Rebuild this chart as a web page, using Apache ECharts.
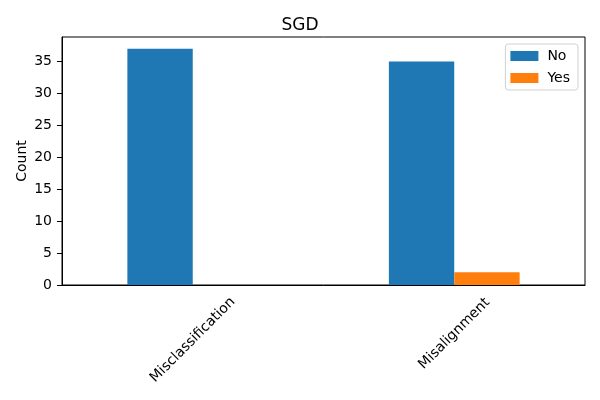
<!DOCTYPE html>
<html>
<head>
    <meta charset="utf-8"/>
    <title>SGD</title>
    <script src="https://cdn.jsdelivr.net/npm/echarts@6/dist/echarts.min.js"></script>
</head>
<body style="margin:0">
<div id="main" style="width: 600px;height:400px;"></div>
<script type="text/javascript">
    // data
    var categories = ['Misclassification', 'Misalignment'];
    var noValues = [37, 35];
    var yesValues = [0, 2];
    var yTicks = [0, 5, 10, 15, 20, 25, 30, 35];

    var font = 'DejaVu Sans';
    var myChart = echarts.init(document.getElementById('main'));

    var option = {
        animation: false,
        backgroundColor: '#fff',
        textStyle: {fontFamily: font, color: '#000'},
        title: {
            text: 'SGD',
            left: 'center',
            top: 12,
            textStyle: {fontFamily: font, fontSize: 17, fontWeight: 'normal', color: '#000'}
        },
        legend: {
            data: ['No', 'Yes'],
            orient: 'vertical',
            right: 22,
            top: 44,
            itemWidth: 28,
            itemHeight: 10,
            itemGap: 8,
            padding: [5, 8, 5, 5],
            borderColor: '#d0d0d0',
            borderWidth: 1,
            borderRadius: 3,
            icon: 'rect',
            textStyle: {fontFamily: font, fontSize: 14, color: '#000', padding: [0, 0, 0, 4]}
        },
        grid: {
            left: 62,
            right: 15,
            top: 37,
            bottom: 115,
            show: true,
            borderColor: '#000',
            borderWidth: 1
        },
        xAxis: {
            type: 'category',
            data: categories,
            axisLine: {lineStyle: {color: '#000'}},
            axisTick: {alignWithLabel: true, length: 5, lineStyle: {color: '#000'}},
            axisLabel: {
                rotate: 45,
                align: 'center',
                verticalAlign: 'middle',
                margin: 55,
                fontFamily: font,
                fontSize: 14,
                color: '#000',
                formatter: function (v, i) {
                    // shorter label sits a bit closer to the axis
                    return i === 0 ? '{a|' + v + '}' : '{b|' + v + '}';
                },
                rich: {
                    a: {fontFamily: font, fontSize: 14, color: '#000'},
                    b: {fontFamily: font, fontSize: 14, color: '#000', padding: [0, 0, 9, 9]}
                }
            }
        },
        yAxis: {
            type: 'value',
            min: 0,
            max: 38.85,
            interval: 5,
            name: 'Count',
            nameLocation: 'middle',
            nameGap: 33,
            nameMoveOverlap: false,
            nameRotate: 90,
            nameTextStyle: {fontFamily: font, fontSize: 14, color: '#000'},
            splitLine: {show: false},
            axisLine: {show: true, lineStyle: {color: '#000'}},
            axisTick: {show: true, length: 5, lineStyle: {color: '#000'}},
            axisLabel: {
                fontFamily: font,
                fontSize: 14,
                color: '#000',
                margin: 10,
                showMaxLabel: false,
                formatter: function (v) {
                    return yTicks.indexOf(v) >= 0 ? String(v) : '';
                }
            }
        },
        series: [{
            name: 'No',
            type: 'bar',
            data: noValues,
            barWidth: '25%',
            barGap: '0%',
            itemStyle: {color: '#1f77b4'}
        }, {
            name: 'Yes',
            type: 'bar',
            data: yesValues,
            barWidth: '25%',
            barGap: '0%',
            itemStyle: {color: '#ff7f0e'}
        }]
    };

    myChart.setOption(option);
</script>
</body>
</html>
